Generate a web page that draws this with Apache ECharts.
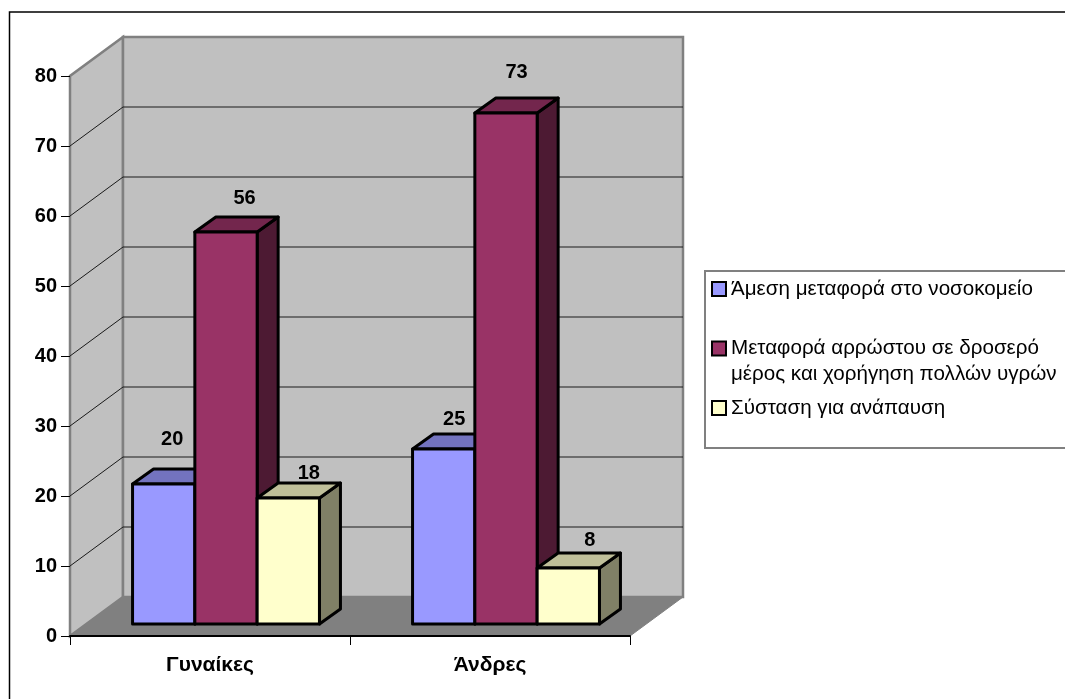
<!DOCTYPE html>
<html><head><meta charset="utf-8">
<script src="https://cdn.jsdelivr.net/npm/echarts@6/dist/echarts.min.js"></script>
<style>html,body{margin:0;padding:0;background:#fff}#c{width:1065px;height:699px}</style>
</head><body><div id="c"></div>
<script>
const categories = ['Γυναίκες', 'Άνδρες'];
const seriesNames = ['Άμεση μεταφορά στο νοσοκομείο', 'Μεταφορά αρρώστου σε δροσερό\nμέρος και χορήγηση πολλών υγρών', 'Σύσταση για ανάπαυση'];
const valuesDirect = [20, 25];
const valuesCool = [56, 73];
const valuesRest = [18, 8];
const yTicks = [10, 20, 30, 40, 50, 60, 70];
// label nudges relative to the bar's top-centre (hand placed in the original)
const nudgeDirect = [[-2, -30], [0, -15]];
const nudgeCool = [[8, -19], [0, -26]];
const nudgeRest = [[10, -10], [11, -13]];

const FONT = '"Liberation Sans", Arial, sans-serif';
const WALL = [53, -39], BAR_DEPTH = [21, -15], BAR_SHIFT = [16, -12], BAR_RATIO = 0.2225;
const FACE = ['#9999FF', '#993366', '#FFFFCC'];
const TOP = ['#7373BF', '#73264D', '#BFBF99'];
const SIDE = ['#4D4D80', '#4D1A33', '#808066'];

function wallBox(api) {
  const band = api.size([1, 0])[0];
  const a = api.coord([0, 0]), b = api.coord([categories.length - 1, 80]);
  return {l: a[0] - band / 2, r: b[0] + band / 2, y0: a[1], y1: b[1]};
}
function renderWalls(params, api) {
  const w = wallBox(api), dx = WALL[0], dy = WALL[1];
  const grey = {stroke: '#808080', lineWidth: 2.5, lineJoin: 'miter'};
  return {type: 'group', silent: true, children: [
    {type: 'polygon', shape: {points: [[w.l, w.y0], [w.l + dx, w.y0 + dy], [w.l + dx, w.y1 + dy], [w.l, w.y1]]}, style: {fill: '#C0C0C0', ...grey}},
    {type: 'polygon', shape: {points: [[w.l + dx, w.y0 + dy], [w.r + dx, w.y0 + dy], [w.r + dx, w.y1 + dy], [w.l + dx, w.y1 + dy]]}, style: {fill: '#C0C0C0', ...grey}},
    {type: 'polygon', shape: {points: [[w.l, w.y0], [w.r, w.y0], [w.r + dx, w.y0 + dy], [w.l + dx, w.y0 + dy]]}, style: {fill: '#808080', stroke: '#808080', lineWidth: 1}}
  ]};
}
function renderGrid(params, api) {
  const w = wallBox(api), y = api.coord([0, api.value(1)])[1];
  const s = {stroke: '#1a1a1a', lineWidth: 1, fill: 'none'};
  return {type: 'group', silent: true, children: [
    {type: 'polyline', shape: {points: [[w.l, y], [w.l + WALL[0], y + WALL[1]], [w.r + WALL[0], y + WALL[1]]]}, style: s}
  ]};
}
function renderBar(idx, nudges) {
  return function (params, api) {
    const c = api.coord([api.value(0), api.value(1)]);
    const base = api.coord([api.value(0), 0])[1] + BAR_SHIFT[1];
    const top = c[1] + BAR_SHIFT[1];
    const bw = api.size([1, 0])[0] * BAR_RATIO;
    const l = c[0] + BAR_SHIFT[0] + (idx - 1.5) * bw, r = l + bw;
    const dx = BAR_DEPTH[0], dy = BAR_DEPTH[1];
    const line = {stroke: '#000', lineWidth: 3, lineJoin: 'round'};
    const n = nudges[params.dataIndex];
    return {type: 'group', children: [
      {type: 'polygon', shape: {points: [[r, top], [r + dx, top + dy], [r + dx, base + dy], [r, base]]}, style: {fill: SIDE[idx], ...line}},
      {type: 'polygon', shape: {points: [[l, top], [l + dx, top + dy], [r + dx, top + dy], [r, top]]}, style: {fill: TOP[idx], ...line}},
      {type: 'rect', shape: {x: l, y: top, width: bw, height: base - top}, style: {fill: FACE[idx], ...line}},
      {type: 'text', x: (l + r + dx) / 2 + n[0], y: top + dy + n[1], style: {text: String(api.value(1)), font: 'bold 20px ' + FONT, fill: '#000', align: 'center', verticalAlign: 'middle'}}
    ]};
  };
}
function barSeries(i, values, nudges) {
  return {type: 'custom', name: seriesNames[i], z: 10 + i, clip: false,
    itemStyle: {color: FACE[i]}, encode: {x: 0, y: 1},
    data: values.map((v, k) => [k, v]), renderItem: renderBar(i, nudges)};
}
const legendText = {fontFamily: FONT, fontSize: 20.6, color: '#000', lineHeight: 26};
const chart = echarts.init(document.getElementById('c'), null, {renderer: 'canvas'});
chart.setOption({
  animation: false,
  grid: {left: 70, right: 435, top: 76, bottom: 63, containLabel: false},
  graphic: [{type: 'rect', z: -10, shape: {x: 9.5, y: 12, width: 1100, height: 720}, style: {fill: '#fff', stroke: '#000', lineWidth: 1.5}}],
  legend: {
    orient: 'vertical', left: 705, top: 271, itemGap: 7.5, itemWidth: 14, itemHeight: 14, align: 'left',
    padding: [5, 20, 27, 6], borderColor: '#808080', borderWidth: 2, backgroundColor: '#fff', selectedMode: false,
    textStyle: legendText,
    // a wrapped name starts one line early so that its first line sits beside the swatch
    formatter: name => (name.includes('\n') ? '\n' + name : name),
    data: seriesNames.map((n, i) => ({
      name: n, icon: 'rect', itemStyle: {color: FACE[i], borderColor: '#000', borderWidth: 2}
    }))
  },
  xAxis: {type: 'category', data: categories,
    axisLine: {lineStyle: {color: '#000', width: 2}}, axisTick: {show: true, length: 9, lineStyle: {color: '#000', width: 1}},
    axisLabel: {fontFamily: FONT, fontWeight: 'bold', fontSize: 21, color: '#000', margin: 19}, z: 5},
  yAxis: {type: 'value', min: 0, max: 80, interval: 10, splitLine: {show: false},
    axisLine: {show: false}, axisTick: {show: true, length: 9, lineStyle: {color: '#000', width: 1}},
    axisLabel: {fontFamily: FONT, fontWeight: 'bold', fontSize: 20, color: '#000', margin: 13}, z: 5},
  series: [
    {type: 'custom', z: 1, clip: false, silent: true, encode: {x: 0, y: 1}, data: [[0, 0]], renderItem: renderWalls},
    {type: 'custom', z: 2, clip: false, silent: true, encode: {x: 0, y: 1}, data: yTicks.map(v => [0, v]), renderItem: renderGrid},
    barSeries(0, valuesDirect, nudgeDirect),
    barSeries(1, valuesCool, nudgeCool),
    barSeries(2, valuesRest, nudgeRest)
  ]
});
</script></body></html>
